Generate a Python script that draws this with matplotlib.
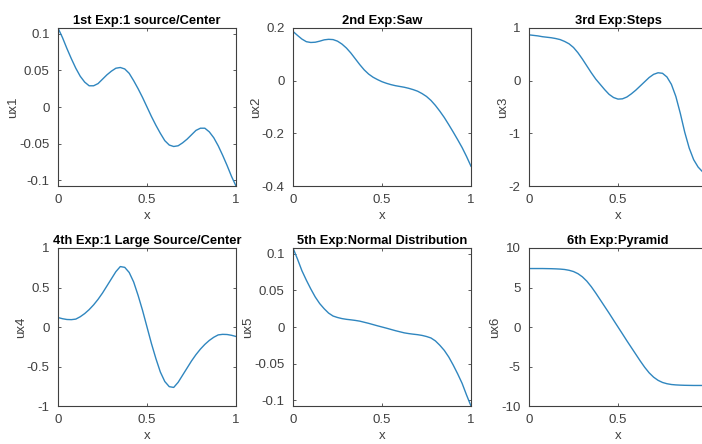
import matplotlib
matplotlib.use("Agg")
from matplotlib import pyplot as plt

plt.rcParams["font.family"] = ["Liberation Sans", "DejaVu Sans"]
plt.rcParams["axes.unicode_minus"] = False

x = [0.0, 0.025, 0.05, 0.075, 0.1, 0.125, 0.15, 0.175, 0.2, 0.225,
     0.25, 0.275, 0.3, 0.325, 0.35, 0.375, 0.4, 0.425, 0.45, 0.475,
     0.5, 0.525, 0.55, 0.575, 0.6, 0.625, 0.65, 0.675, 0.7, 0.725,
     0.75, 0.775, 0.8, 0.825, 0.85, 0.875, 0.9, 0.925, 0.95, 0.975, 1.0]

ux1 = [0.108, 0.095, 0.080, 0.066, 0.053, 0.042, 0.034, 0.029, 0.029, 0.032,
       0.038, 0.044, 0.049, 0.053, 0.054, 0.052, 0.046, 0.036, 0.025, 0.013,
       0.0, -0.013, -0.025, -0.036, -0.046, -0.052, -0.054, -0.053, -0.049, -0.044,
       -0.038, -0.032, -0.029, -0.029, -0.034, -0.042, -0.053, -0.066, -0.080, -0.095, -0.108]

ux2 = [0.187, 0.172, 0.158, 0.148, 0.145, 0.146, 0.150, 0.155, 0.157, 0.156,
       0.150, 0.139, 0.124, 0.105, 0.083, 0.061, 0.041, 0.025, 0.013, 0.004,
       -0.004, -0.010, -0.015, -0.019, -0.022, -0.025, -0.029, -0.034, -0.040, -0.049,
       -0.060, -0.075, -0.094, -0.116, -0.140, -0.167, -0.195, -0.224, -0.254, -0.288, -0.325]

ux3 = [0.87, 0.86, 0.85, 0.835, 0.825, 0.815, 0.80, 0.78, 0.745, 0.70,
       0.63, 0.53, 0.41, 0.28, 0.15, 0.03, -0.07, -0.17, -0.26, -0.32,
       -0.35, -0.345, -0.31, -0.25, -0.18, -0.10, -0.02, 0.06, 0.12, 0.15,
       0.14, 0.07, -0.07, -0.30, -0.62, -0.98, -1.28, -1.50, -1.64, -1.73, -1.78]

ux4 = [0.12, 0.105, 0.095, 0.093, 0.10, 0.13, 0.17, 0.22, 0.28, 0.35,
       0.43, 0.52, 0.61, 0.70, 0.765, 0.755, 0.69, 0.57, 0.40, 0.21,
       0.0, -0.21, -0.40, -0.57, -0.69, -0.755, -0.765, -0.70, -0.61, -0.52,
       -0.43, -0.35, -0.28, -0.22, -0.17, -0.13, -0.10, -0.093, -0.095, -0.105, -0.12]

ux5 = [0.108, 0.093, 0.077, 0.064, 0.052, 0.041, 0.032, 0.025, 0.019, 0.015,
       0.013, 0.0115, 0.0105, 0.0098, 0.009, 0.008, 0.0065, 0.005, 0.0033, 0.0016,
       0.0, -0.0016, -0.0033, -0.005, -0.0065, -0.008, -0.009, -0.0098, -0.0105, -0.0115,
       -0.013, -0.015, -0.019, -0.025, -0.032, -0.041, -0.052, -0.064, -0.077, -0.093, -0.108]

ux6 = [7.4, 7.4, 7.4, 7.4, 7.39, 7.38, 7.36, 7.33, 7.28, 7.18,
       7.02, 6.75, 6.35, 5.8, 5.1, 4.3, 3.45, 2.6, 1.75, 0.87,
       0.0, -0.87, -1.75, -2.6, -3.45, -4.3, -5.1, -5.8, -6.35, -6.75,
       -7.02, -7.18, -7.28, -7.33, -7.36, -7.38, -7.39, -7.4, -7.4, -7.4, -7.4]

titles = ["1st Exp:1 source/Center", "2nd Exp:Saw", "3rd Exp:Steps",
          "4th Exp:1 Large Source/Center", "5th Exp:Normal Distribution", "6th Exp:Pyramid"]
ylabels = ["ux1", "ux2", "ux3", "ux4", "ux5", "ux6"]
series = [ux1, ux2, ux3, ux4, ux5, ux6]

ylims = [(-0.108, 0.108), (-0.4, 0.2), (-2, 1), (-1, 1), (-0.108, 0.108), (-10, 10)]
yticks = [[-0.1, -0.05, 0, 0.05, 0.1], [-0.4, -0.2, 0, 0.2], [-2, -1, 0, 1],
          [-1, -0.5, 0, 0.5, 1], [-0.1, -0.05, 0, 0.05, 0.1], [-10, -5, 0, 5, 10]]
yticklabels = [["-0.1", "-0.05", "0", "0.05", "0.1"], ["-0.4", "-0.2", "0", "0.2"],
               ["-2", "-1", "0", "1"], ["-1", "-0.5", "0", "0.5", "1"],
               ["-0.1", "-0.05", "0", "0.05", "0.1"], ["-10", "-5", "0", "5", "10"]]
xticks = [0, 0.5, 1]
xticklabels = ["0", "0.5", "1"]

fig = plt.figure(figsize=(7.02, 4.44), dpi=100)

lefts = [58 / 702, 293 / 702, 529 / 702]
bottoms = [258 / 444, 38 / 444]
w, h = 178 / 702, 158 / 444

axis_color = "#404040"
for i in range(6):
    ax = fig.add_axes([lefts[i % 3], bottoms[i // 3], w, h])
    ax.plot(x, series[i], color="#2f86bf", linewidth=1.0)
    ax.set_xlim(0, 1)
    ax.set_ylim(*ylims[i])
    ax.set_xticks(xticks)
    # right column runs past the figure edge, its last label falls outside
    if i % 3 == 2:
        ax.set_xticklabels(xticklabels[:2] + [""])
    else:
        ax.set_xticklabels(xticklabels)
    ax.set_yticks(yticks[i])
    ax.set_yticklabels(yticklabels[i])
    ax.tick_params(direction="in", length=2.5, width=0.6, top=True, right=True,
                   labelsize=9.5, colors=axis_color)
    ax.tick_params(axis="x", pad=5.5)
    ax.tick_params(axis="y", pad=6)
    for s in ax.spines.values():
        s.set_color(axis_color)
        s.set_linewidth(0.8)
    ax.set_title(titles[i], fontsize=9.3, fontweight="bold", pad=3)
    ax.set_xlabel("x", fontsize=9.5, color=axis_color, labelpad=3)
    ax.set_ylabel(ylabels[i], fontsize=9.5, color=axis_color, labelpad=0)

fig.savefig("out.png", dpi=100)
